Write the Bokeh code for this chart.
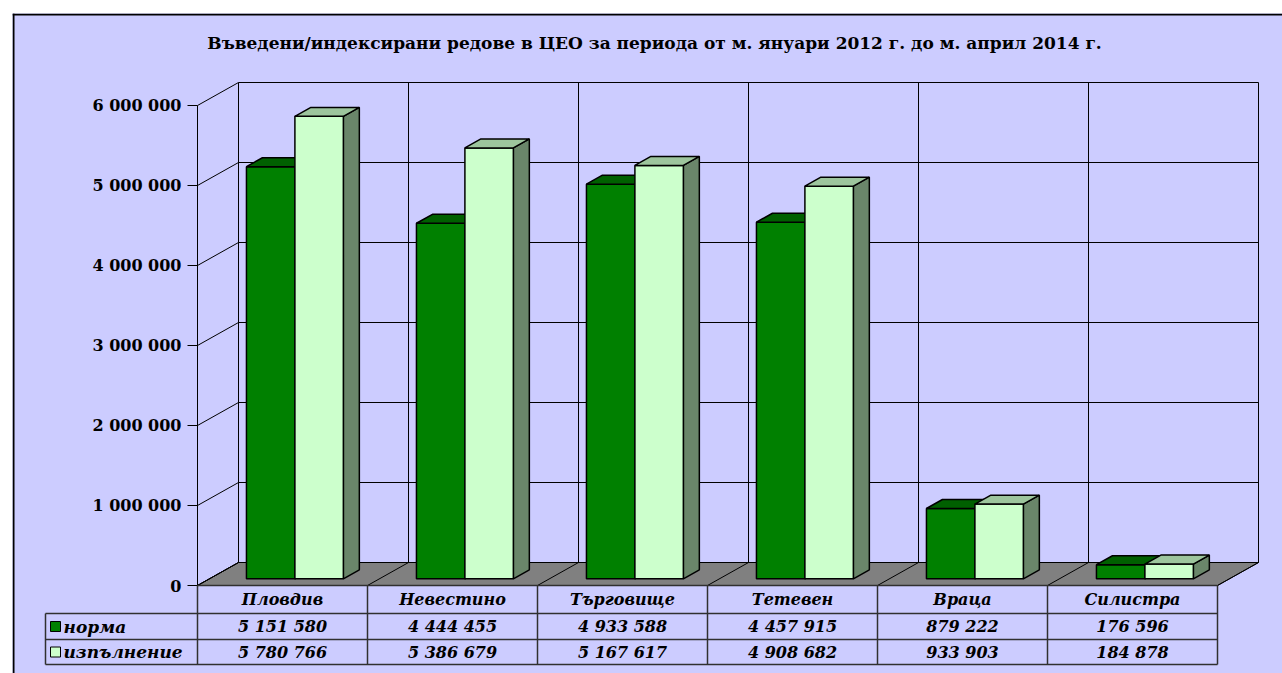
from bokeh.plotting import figure
from bokeh.models import Range1d, Span
from bokeh.core.properties import value
from bokeh.embed import file_html
from bokeh.resources import INLINE

# ---------------- data ----------------
categories = ["Пловдив", "Невестино", "Търговище", "Тетевен", "Враца", "Силистра"]
series_names = ["норма", "изпълнение"]
norma = [5151580, 4444455, 4933588, 4457915, 879222, 176596]
izpalnenie = [5780766, 5386679, 5167617, 4908682, 933903, 184878]
y_ticks = [0, 1000000, 2000000, 3000000, 4000000, 5000000, 6000000]
title_text = "Въведени/индексирани редове в ЦЕО за периода от м. януари 2012 г. до м. април 2014 г."

# ---------------- styling / geometry ----------------
FRONT = ["#008000", "#CCFFCC"]
TOP = ["#006000", "#9DC59D"]
SIDE = ["#004A00", "#6A866A"]
FLOOR = "#808080"
BG = "#CCCCFF"
FONT = value("DejaVu Serif")

PX_X = 170.0           # pixels per category
PX_Y = 80.0 / 1e6      # pixels per unit value
DX = 41.0 / PX_X       # depth offset (category units)
DY = 23.0 / PX_Y       # depth offset (value units)
F1, F2 = 0.29, 0.68    # bar front/back depth fractions
B0, BW = 0.218, 0.285  # bar start within category, bar width

W, H = 1282, 673
ML, MT = 12, 13
x0r = (ML - 197) / PX_X
x1r = (W - 197) / PX_X
y0r = (585 - H) / PX_Y
y1r = (585 - MT) / PX_Y

p = figure(width=W, height=H, output_backend="svg", toolbar_location=None,
           x_range=Range1d(x0r, x1r), y_range=Range1d(y0r, y1r),
           x_axis_type=None, y_axis_type=None,
           min_border_left=ML, min_border_top=MT, min_border_right=0, min_border_bottom=0,
           background_fill_color=BG, border_fill_color="white", outline_line_color=None)
p.xgrid.visible = False
p.ygrid.visible = False

# chart border (left & top)
p.add_layout(Span(location=x0r + 1.0 / PX_X, dimension="height", line_color="black", line_width=2))
p.add_layout(Span(location=y1r - 1.0 / PX_Y, dimension="width", line_color="black", line_width=2))

n = len(categories)
ymax = y_ticks[-1]

# floor
p.patch([0, n, n + DX, DX], [0, 0, DY, DY], fill_color=FLOOR, line_color="black", line_width=1)

# back wall & left wall gridlines
gx, gy = [], []
for t in y_ticks:
    gx.append([DX, n + DX]); gy.append([t + DY, t + DY])        # back wall horizontal
    gx.append([0, DX]); gy.append([t, t + DY])                  # left wall diagonal
    gx.append([-10 / PX_X, 0]); gy.append([t, t])               # tick mark
for k in range(n + 1):
    gx.append([k + DX, k + DX]); gy.append([DY, ymax + DY])     # back wall verticals
    gx.append([k, k + DX]); gy.append([0, DY])                  # floor diagonals
gx.append([0, 0]); gy.append([0, ymax])                         # front axis line
p.multi_line(gx, gy, line_color="black", line_width=1)

# y tick labels
p.text(x=[-16 / PX_X] * len(y_ticks), y=y_ticks,
       text=[f"{t:,}".replace(",", " ") for t in y_ticks],
       text_font=FONT, text_font_style="bold", text_font_size="16px",
       text_align="right", text_baseline="middle", text_color="black")

# bars
a1, b1 = F1 * DX, F1 * DY
a2, b2 = F2 * DX, F2 * DY
for i in range(n):
    for s, vals in enumerate([norma, izpalnenie]):
        v = vals[i]
        xa = i + B0 + s * BW
        xb = xa + BW
        # side
        p.patch([xb + a1, xb + a2, xb + a2, xb + a1], [b1, b2, v + b2, v + b1],
                fill_color=SIDE[s], line_color="black", line_width=1.5)
        # front
        p.patch([xa + a1, xb + a1, xb + a1, xa + a1], [b1, b1, v + b1, v + b1],
                fill_color=FRONT[s], line_color="black", line_width=1.5)
        # top
        p.patch([xa + a1, xb + a1, xb + a2, xa + a2], [v + b1, v + b1, v + b2, v + b2],
                fill_color=TOP[s], line_color="black", line_width=1.5)

# title
p.text(x=[(654 - 197) / PX_X], y=[(585 - 42) / PX_Y], text=[title_text],
       text_font=FONT, text_font_style="bold", text_font_size="17px",
       text_align="center", text_baseline="middle", text_color="black")

# data table
r_top = 0
r1 = (585 - 613) / PX_Y
r2 = (585 - 639) / PX_Y
r3 = (585 - 664) / PX_Y
leg_x = (45 - 197) / PX_X
tx, ty = [], []
tx.append([0, n]); ty.append([r_top, r_top])
tx.append([leg_x, n]); ty.append([r1, r1])
tx.append([leg_x, n]); ty.append([r2, r2])
tx.append([leg_x, n]); ty.append([r3, r3])
for k in range(n + 1):
    tx.append([k, k]); ty.append([r_top, r3])
tx.append([leg_x, leg_x]); ty.append([r1, r3])
p.multi_line(tx, ty, line_color="#303030", line_width=1.5)

cx = [i + 0.5 for i in range(n)]
fmt = lambda v: f"{v:,}".replace(",", " ")
p.text(x=cx, y=[(r_top + r1) / 2] * n, text=categories,
       text_font=FONT, text_font_style="bold italic", text_font_size="16px",
       text_align="center", text_baseline="middle", text_color="black")
p.text(x=cx, y=[(r1 + r2) / 2] * n, text=[fmt(v) for v in norma],
       text_font=FONT, text_font_style="bold italic", text_font_size="16px",
       text_align="center", text_baseline="middle", text_color="black")
p.text(x=cx, y=[(r2 + r3) / 2] * n, text=[fmt(v) for v in izpalnenie],
       text_font=FONT, text_font_style="bold italic", text_font_size="16px",
       text_align="center", text_baseline="middle", text_color="black")

# legend keys in table
lx = (55 - 197) / PX_X
p.scatter(x=[lx, lx], y=[(r1 + r2) / 2, (r2 + r3) / 2], marker="square", size=10,
          fill_color=FRONT, line_color="black", line_width=1)
p.text(x=[(63 - 197) / PX_X] * 2, y=[(r1 + r2) / 2, (r2 + r3) / 2], text=series_names,
       text_font=FONT, text_font_style="bold italic", text_font_size="17px",
       text_align="left", text_baseline="middle", text_color="black")

open("out.html", "w").write(file_html(p, INLINE))
